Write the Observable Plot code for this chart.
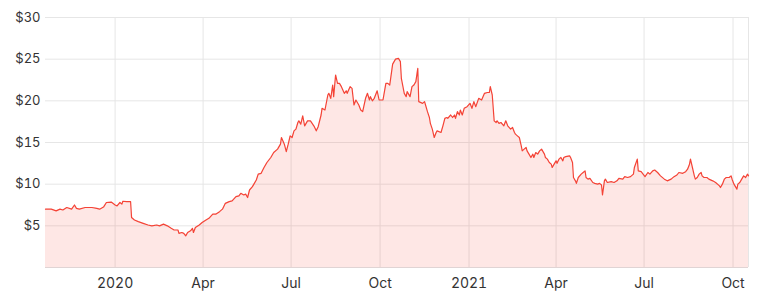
<!DOCTYPE html>
<html>
<head>
<meta charset="utf-8">
<script src="https://cdn.jsdelivr.net/npm/d3@7"></script>
<script src="https://cdn.jsdelivr.net/npm/@observablehq/plot@0.6"></script>
<style>
  html, body { margin: 0; padding: 0; background: #fff; }
  #chart svg { display: block; }
</style>
</head>
<body>
<div id="chart"></div>
<script>
const dates = [
  "2019-10-21","2019-10-27","2019-11-01","2019-11-05","2019-11-08","2019-11-12","2019-11-17","2019-11-20","2019-11-22","2019-11-25",
  "2019-12-01","2019-12-08","2019-12-13","2019-12-16","2019-12-20","2019-12-23","2019-12-28","2020-01-01","2020-01-03","2020-01-06",
  "2020-01-08","2020-01-09","2020-01-13","2020-01-17","2020-01-18","2020-01-21","2020-01-25","2020-01-30","2020-02-04","2020-02-08",
  "2020-02-13","2020-02-16","2020-02-20","2020-02-24","2020-02-28","2020-03-02","2020-03-06","2020-03-07","2020-03-10","2020-03-12",
  "2020-03-14","2020-03-16","2020-03-19","2020-03-21","2020-03-22","2020-03-24","2020-03-28","2020-03-31","2020-04-04","2020-04-07",
  "2020-04-11","2020-04-14","2020-04-18","2020-04-21","2020-04-24","2020-04-28","2020-05-01","2020-05-05","2020-05-08","2020-05-10",
  "2020-05-13","2020-05-15","2020-05-17","2020-05-19","2020-05-22","2020-05-26","2020-05-28","2020-05-31","2020-06-03","2020-06-06",
  "2020-06-10","2020-06-13","2020-06-17","2020-06-20","2020-06-21","2020-06-24","2020-06-26","2020-06-28","2020-06-30","2020-07-02",
  "2020-07-04","2020-07-06","2020-07-08","2020-07-09","2020-07-11","2020-07-13","2020-07-15","2020-07-18","2020-07-21","2020-07-25",
  "2020-07-27","2020-07-29","2020-08-01","2020-08-02","2020-08-05","2020-08-08","2020-08-09","2020-08-11","2020-08-13","2020-08-14",
  "2020-08-16","2020-08-18","2020-08-20","2020-08-22","2020-08-25","2020-08-27","2020-08-28","2020-08-31","2020-09-02","2020-09-04",
  "2020-09-06","2020-09-09","2020-09-11","2020-09-13","2020-09-16","2020-09-18","2020-09-20","2020-09-21","2020-09-23","2020-09-25",
  "2020-09-28","2020-09-30","2020-10-04","2020-10-07","2020-10-09","2020-10-11","2020-10-14","2020-10-17","2020-10-20","2020-10-22",
  "2020-10-23","2020-10-26","2020-10-28","2020-10-29","2020-11-01","2020-11-03","2020-11-05","2020-11-07","2020-11-09","2020-11-10",
  "2020-11-14","2020-11-16","2020-11-17","2020-11-19","2020-11-21","2020-11-22","2020-11-24","2020-11-26","2020-11-28","2020-11-29",
  "2020-12-03","2020-12-05","2020-12-07","2020-12-09","2020-12-10","2020-12-13","2020-12-15","2020-12-17","2020-12-18","2020-12-20",
  "2020-12-22","2020-12-23","2020-12-25","2020-12-27","2020-12-30","2021-01-02","2021-01-04","2021-01-06","2021-01-08","2021-01-11",
  "2021-01-14","2021-01-17","2021-01-20","2021-01-22","2021-01-23","2021-01-25","2021-01-27","2021-01-29","2021-01-30","2021-02-01",
  "2021-02-03","2021-02-06","2021-02-08","2021-02-10","2021-02-13","2021-02-15","2021-02-17","2021-02-18","2021-02-20","2021-02-22",
  "2021-02-24","2021-02-25","2021-02-27","2021-03-01","2021-03-02","2021-03-04","2021-03-06","2021-03-08","2021-03-09","2021-03-11",
  "2021-03-13","2021-03-15","2021-03-17","2021-03-20","2021-03-21","2021-03-23","2021-03-25","2021-03-27","2021-03-28","2021-03-30",
  "2021-04-01","2021-04-02","2021-04-04","2021-04-06","2021-04-08","2021-04-09","2021-04-11","2021-04-15","2021-04-16","2021-04-18",
  "2021-04-19","2021-04-21","2021-04-22","2021-04-24","2021-04-27","2021-04-29","2021-05-01","2021-05-02","2021-05-04","2021-05-06",
  "2021-05-09","2021-05-11","2021-05-14","2021-05-16","2021-05-18","2021-05-19","2021-05-21","2021-05-22","2021-05-24","2021-05-28",
  "2021-05-31","2021-06-03","2021-06-05","2021-06-09","2021-06-11","2021-06-14","2021-06-17","2021-06-20","2021-06-21","2021-06-24",
  "2021-06-25","2021-06-28","2021-06-30","2021-07-02","2021-07-05","2021-07-07","2021-07-10","2021-07-12","2021-07-15","2021-07-18",
  "2021-07-22","2021-07-25","2021-07-29","2021-08-01","2021-08-04","2021-08-06","2021-08-10","2021-08-13","2021-08-15","2021-08-17",
  "2021-08-18","2021-08-20","2021-08-22","2021-08-23","2021-08-25","2021-08-27","2021-08-29","2021-08-30","2021-09-01","2021-09-04",
  "2021-09-06","2021-09-10","2021-09-13","2021-09-17","2021-09-18","2021-09-20","2021-09-22","2021-09-24","2021-09-27","2021-09-29",
  "2021-09-30","2021-10-02","2021-10-05","2021-10-06","2021-10-08","2021-10-10","2021-10-12","2021-10-14","2021-10-16","2021-10-17"
];
const prices = [
  7.0,7.0,6.8,7.0,6.9,7.2,7.0,7.5,7.1,7.0,
  7.2,7.2,7.1,7.0,7.25,7.8,7.85,7.5,7.4,7.8,
  7.6,7.95,7.9,7.9,6.0,5.7,5.5,5.3,5.1,5.0,
  5.1,5.0,5.2,5.0,4.7,4.5,4.5,4.1,4.2,4.1,
  3.8,4.2,4.4,4.7,4.2,4.8,5.1,5.4,5.7,5.9,
  6.4,6.4,6.7,7.0,7.7,7.9,8.0,8.5,8.6,8.9,
  8.7,8.8,8.4,9.3,9.7,10.5,11.2,11.3,12.0,12.6,
  13.2,13.8,14.2,14.8,15.6,14.8,13.9,14.8,15.8,15.6,
  16.4,16.6,17.4,17.6,17.2,18.2,17.0,17.6,17.6,16.9,
  16.4,16.9,18.3,19.1,18.9,20.7,20.9,20.3,21.9,20.5,
  23.1,22.1,22.1,21.7,20.9,21.2,20.9,21.7,21.5,19.5,
  20.1,19.5,18.9,18.7,20.3,20.9,20.1,20.5,20.0,20.3,
  21.2,20.1,20.1,22.1,22.1,21.9,24.4,25.0,25.1,24.7,
  22.7,20.9,20.5,21.1,20.5,21.7,21.9,22.3,23.9,19.9,
  19.7,19.9,19.5,18.7,18.0,17.3,16.6,15.6,16.2,16.4,
  16.2,17.0,17.9,18.0,17.9,18.3,18.0,18.3,17.9,18.7,
  18.3,18.9,18.3,19.1,19.3,19.7,19.1,19.9,19.3,20.3,
  20.1,20.9,21.0,21.0,21.7,20.7,17.6,17.4,17.6,17.3,
  17.4,17.0,17.6,17.0,16.6,16.8,16.2,16.0,15.8,15.6,
  14.6,14.0,14.2,14.4,14.0,13.6,13.2,13.6,13.2,13.8,
  13.6,14.0,14.2,13.6,13.2,13.0,12.6,12.4,12.0,12.4,
  12.8,12.5,13.0,13.2,12.8,13.2,13.3,13.4,13.2,12.6,
  10.8,10.4,10.1,10.8,11.2,11.4,11.6,10.8,10.6,10.7,
  10.2,10.1,10.0,10.1,9.9,8.7,10.4,10.6,10.2,10.3,
  10.2,10.4,10.7,10.6,10.9,10.8,10.9,11.2,12.0,13.0,
  11.6,11.5,11.2,10.9,11.4,11.2,11.6,11.7,11.4,11.0,
  10.6,10.4,10.6,10.9,11.1,11.4,11.3,11.5,11.8,12.4,
  13.0,12.0,11.0,10.6,10.8,11.2,11.4,11.0,10.8,10.8,
  10.6,10.4,10.2,9.8,9.6,10.0,10.6,10.8,10.8,11.0,
  10.6,10.0,9.4,10.0,10.2,10.6,11.0,10.8,11.2,11.0
];
const yTicks = [5, 10, 15, 20, 25, 30];
const xTickDates = ["2020-01-01","2020-04-01","2020-07-01","2020-10-01","2021-01-01","2021-04-01","2021-07-01","2021-10-01"];
const xTickLabels = ["2020","Apr","Jul","Oct","2021","Apr","Jul","Oct"];

const data = dates.map((d, i) => ({date: new Date(d), price: prices[i]}));
const xTicks = xTickDates.map(d => new Date(d));
const labelOf = d => xTickLabels[xTicks.findIndex(t => +t === +d)];
const x0 = new Date(dates[0]);
const x1 = new Date(dates[dates.length - 1]);

const chart = Plot.plot({
  width: 765,
  height: 304,
  marginLeft: 45,
  marginRight: 17,
  marginTop: 17,
  marginBottom: 37,
  style: {fontFamily: "Inter, 'Open Sans', sans-serif", fontSize: "13px", color: "#333", background: "#fff"},
  x: {type: "utc", domain: [x0, x1]},
  y: {domain: [0, 30]},
  marks: [
    Plot.gridY(yTicks, {stroke: "#e6e6e6", strokeOpacity: 1}),
    Plot.gridX(xTicks, {stroke: "#e6e6e6", strokeOpacity: 1}),
    Plot.ruleX([x1], {stroke: "#e6e6e6"}),
    Plot.areaY(data, {x: "date", y: "price", fill: "#f44336", fillOpacity: 0.13}),
    Plot.lineY(data, {x: "date", y: "price", stroke: "#f44336", strokeWidth: 1.2}),
    Plot.ruleY([0], {stroke: "#e0d4d4"}),
    Plot.axisY(yTicks, {tickSize: 0, tickPadding: 5, tickFormat: d => "$" + d, label: null, fontSize: 13}),
    Plot.axisX(xTicks, {tickSize: 0, tickPadding: 11, tickFormat: labelOf, label: null, fontSize: 14})
  ]
});
document.getElementById("chart").append(chart);
</script>
</body>
</html>
